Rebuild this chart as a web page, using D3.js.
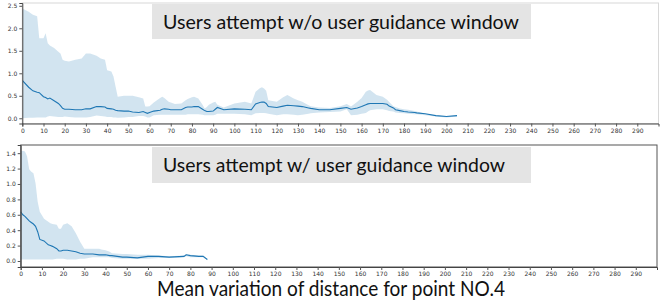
<!DOCTYPE html>
<html>
  <head>
  <title>Mean variation</title>
  <style>
    body, html {
      margin: 0;
      padding: 0;
      background: #fff;
    }
    .tick text {
      font-family: "DejaVu Sans", sans-serif;
      font-size: 6px;
      fill: #333;
    }
  </style>
  </head>
  <body>

  <svg id="svg" width="665" height="302"></svg>

  <script src="https://d3js.org/d3.v7.min.js"></script>
  <script>
    // top panel: without guidance window
    const topX = [0, 3, 5, 7, 8, 10, 11, 12, 13, 15, 17, 18, 19, 20, 22, 25, 28, 30, 32, 35, 37, 39, 40, 42, 43, 44, 45, 48, 50, 52, 55, 57, 58, 59, 60, 62, 65, 66, 67, 69, 70, 72, 75, 77, 78, 80, 81, 83, 85, 86, 87, 88, 90, 91, 92, 95, 100, 105, 108, 110, 112, 113, 114, 115, 116, 120, 123, 125, 128, 130, 132, 135, 136, 140, 145, 150, 153, 155, 158, 160, 162, 163, 164, 167, 170, 172, 173, 175, 176, 178, 180, 182, 185, 186, 190, 195, 200, 205]
    const topMean = [0.84, 0.69, 0.61, 0.58, 0.57, 0.48, 0.46, 0.43, 0.45, 0.39, 0.33, 0.28, 0.22, 0.2, 0.2, 0.19, 0.19, 0.21, 0.21, 0.26, 0.26, 0.25, 0.22, 0.21, 0.2, 0.18, 0.17, 0.16, 0.16, 0.14, 0.13, 0.15, 0.13, 0.11, 0.13, 0.16, 0.18, 0.2, 0.21, 0.2, 0.19, 0.19, 0.19, 0.24, 0.25, 0.25, 0.26, 0.26, 0.2, 0.17, 0.15, 0.15, 0.16, 0.2, 0.24, 0.19, 0.21, 0.2, 0.19, 0.32, 0.35, 0.36, 0.36, 0.33, 0.26, 0.24, 0.27, 0.29, 0.28, 0.27, 0.26, 0.23, 0.22, 0.19, 0.19, 0.22, 0.24, 0.2, 0.23, 0.26, 0.3, 0.32, 0.33, 0.33, 0.33, 0.31, 0.27, 0.23, 0.19, 0.17, 0.15, 0.14, 0.13, 0.12, 0.1, 0.06, 0.04, 0.06]
    const topUpper = [2.44, 2.37, 2.3, 2.27, 1.78, 1.78, 1.89, 1.67, 1.62, 1.56, 1.48, 1.44, 1.3, 1.28, 1.26, 1.3, 1.33, 1.44, 1.44, 1.39, 1.33, 1.3, 1.07, 1.04, 0.93, 0.7, 0.48, 0.5, 0.5, 0.5, 0.47, 0.44, 0.26, 0.26, 0.27, 0.35, 0.45, 0.48, 0.45, 0.37, 0.35, 0.32, 0.33, 0.4, 0.43, 0.47, 0.48, 0.44, 0.3, 0.22, 0.25, 0.3, 0.35, 0.37, 0.3, 0.24, 0.33, 0.37, 0.33, 0.59, 0.67, 0.69, 0.66, 0.61, 0.4, 0.37, 0.47, 0.52, 0.44, 0.4, 0.37, 0.29, 0.27, 0.24, 0.23, 0.27, 0.32, 0.26, 0.37, 0.45, 0.59, 0.62, 0.63, 0.52, 0.48, 0.41, 0.36, 0.27, 0.25, 0.22, 0.2, 0.19, 0.16, 0.15, 0.1, 0.07, 0.05, 0.07]
    const topLower = [0.0, 0.01, 0.01, 0.02, 0.02, 0.02, 0.02, 0.04, 0.05, 0.04, 0.03, 0.03, 0.03, 0.04, 0.03, 0.02, 0.02, 0.02, 0.03, 0.06, 0.05, 0.04, 0.03, 0.03, 0.02, 0.02, 0.01, 0.02, 0.03, 0.03, 0.05, 0.05, 0.04, 0.02, 0.02, 0.07, 0.08, 0.08, 0.08, 0.08, 0.08, 0.08, 0.08, 0.08, 0.09, 0.09, 0.09, 0.09, 0.08, 0.07, 0.07, 0.07, 0.07, 0.08, 0.1, 0.1, 0.1, 0.09, 0.07, 0.11, 0.12, 0.12, 0.12, 0.11, 0.1, 0.07, 0.09, 0.09, 0.08, 0.07, 0.08, 0.1, 0.11, 0.13, 0.14, 0.15, 0.2, 0.07, 0.08, 0.1, 0.12, 0.15, 0.18, 0.2, 0.2, 0.18, 0.16, 0.15, 0.13, 0.12, 0.11, 0.1, 0.09, 0.09, 0.07, 0.04, 0.02, 0.04]

    // bottom panel: with guidance window
    const botX = [0, 1, 2, 3, 4, 5, 6, 7, 8, 9, 11, 13, 14, 15, 17, 18, 19, 20, 22, 24, 26, 28, 30, 32, 34, 37, 38, 40, 42, 43, 48, 50, 55, 60, 65, 70, 77, 78, 80, 84, 86, 88]
    const botMean = [0.64, 0.6, 0.58, 0.55, 0.52, 0.5, 0.48, 0.45, 0.38, 0.28, 0.26, 0.21, 0.2, 0.19, 0.16, 0.13, 0.13, 0.14, 0.14, 0.13, 0.12, 0.1, 0.09, 0.09, 0.09, 0.08, 0.08, 0.08, 0.07, 0.07, 0.05, 0.05, 0.04, 0.06, 0.06, 0.05, 0.06, 0.08, 0.07, 0.06, 0.06, 0.02]
    const botUpper = [1.42, 1.43, 1.42, 1.36, 1.19, 1.16, 1.14, 1.01, 0.77, 0.64, 0.55, 0.51, 0.49, 0.48, 0.47, 0.42, 0.42, 0.47, 0.49, 0.45, 0.36, 0.25, 0.16, 0.16, 0.16, 0.16, 0.15, 0.14, 0.12, 0.1, 0.09, 0.09, 0.08, 0.08, 0.07, 0.06, 0.07, 0.09, 0.08, 0.07, 0.07, 0.03]
    const botLower = [0.02, 0.02, 0.02, 0.02, 0.02, 0.02, 0.02, 0.02, 0.02, 0.02, 0.02, 0.02, 0.02, 0.02, 0.03, 0.03, 0.03, 0.03, 0.02, 0.02, 0.02, 0.03, 0.03, 0.04, 0.05, 0.05, 0.05, 0.05, 0.05, 0.04, 0.03, 0.03, 0.03, 0.03, 0.04, 0.04, 0.05, 0.06, 0.05, 0.05, 0.05, 0.01]

    const xTicks = d3.range(0, 300, 10)
    const topYTicks = [0, 0.5, 1.0, 1.5, 2.0, 2.5]
    const botYTicks = [0, 0.2, 0.4, 0.6, 0.8, 1.0, 1.2, 1.4]

    const topTitle = 'Users attempt w/o user guidance window'
    const botTitle = 'Users attempt w/ user guidance window'
    const xLabel = 'Mean variation of distance for point NO.4'

    const color = '#1f77b4'
    const svg = d3.select('#svg')

    function drawPanel(opt) {
      const data = opt.xs.map((x, i) => ({ x: x, m: opt.mean[i], hi: opt.upper[i], lo: opt.lower[i] }))
      const xscale = d3.scaleLinear().domain([0, 300]).range([opt.left, opt.right])
      const yscale = d3.scaleLinear().domain(opt.ydomain).range([opt.bottom, opt.top])
      const g = svg.append('g')

      g.append('path')
        .datum(data)
        .attr('fill', color)
        .attr('fill-opacity', 0.2)
        .attr('d', d3.area()
          .x(d => xscale(d.x))
          .y0(d => yscale(d.lo))
          .y1(d => yscale(d.hi)))

      g.append('path')
        .datum(data)
        .attr('fill', 'none')
        .attr('stroke', color)
        .attr('stroke-width', 1.1)
        .attr('d', d3.line()
          .x(d => xscale(d.x))
          .y(d => yscale(d.m)))

      // frame
      g.append('rect')
        .attr('x', opt.left)
        .attr('y', opt.top)
        .attr('width', opt.right - opt.left)
        .attr('height', opt.bottom - opt.top)
        .attr('fill', 'none')
        .attr('stroke', opt.frame)
        .attr('stroke-width', 1)

      const bottomAxis = d3.axisBottom(xscale)
        .tickValues(xTicks)
        .tickSize(3)
        .tickPadding(2)
      const leftAxis = d3.axisLeft(yscale)
        .tickValues(opt.yticks)
        .tickFormat(d3.format('.1f'))
        .tickSize(3)
        .tickPadding(2)

      const bx = g.append('g')
        .attr('transform', `translate(0, ${opt.bottom})`)
        .call(bottomAxis)
      const ly = g.append('g')
        .attr('transform', `translate(${opt.left}, 0)`)
        .call(leftAxis)
      bx.selectAll('path, line').attr('stroke', '#555')
      ly.selectAll('path, line').attr('stroke', '#555')
      bx.select('.domain').attr('stroke', '#444')
      ly.select('.domain').attr('stroke', '#444')

      // title box
      g.append('rect')
        .attr('x', 152)
        .attr('y', opt.boxTop)
        .attr('width', 379)
        .attr('height', opt.boxH)
        .attr('fill', '#e4e4e4')
      g.append('text')
        .attr('x', 163)
        .attr('y', opt.baseline)
        .attr('font-family', 'Lato, sans-serif')
        .attr('font-size', 20)
        .attr('fill', '#111')
        .attr('textLength', opt.textLen)
        .attr('lengthAdjust', 'spacingAndGlyphs')
        .text(opt.title)
    }

    drawPanel({
      xs: topX, mean: topMean, upper: topUpper, lower: topLower,
      left: 22.3, right: 658.5, top: 3, bottom: 123.5,
      ydomain: [-0.116, 2.562], yticks: topYTicks, frame: '#d8d8d8',
      boxTop: 4, boxH: 35, baseline: 29.3, title: topTitle, textLen: 356
    })

    drawPanel({
      xs: botX, mean: botMean, upper: botUpper, lower: botLower,
      left: 20.7, right: 657, top: 145, bottom: 267,
      ydomain: [-0.078, 1.506], yticks: botYTicks, frame: '#555',
      boxTop: 147, boxH: 36, baseline: 172.3, title: botTitle, textLen: 342
    })

    svg.append('text')
      .attr('x', 331)
      .attr('y', 296)
      .attr('text-anchor', 'middle')
      .attr('font-family', 'Lato, sans-serif')
      .attr('font-size', 22)
      .attr('fill', '#111')
      .attr('textLength', 348)
      .attr('lengthAdjust', 'spacingAndGlyphs')
      .text(xLabel)
  </script>
  </body>
</html>
